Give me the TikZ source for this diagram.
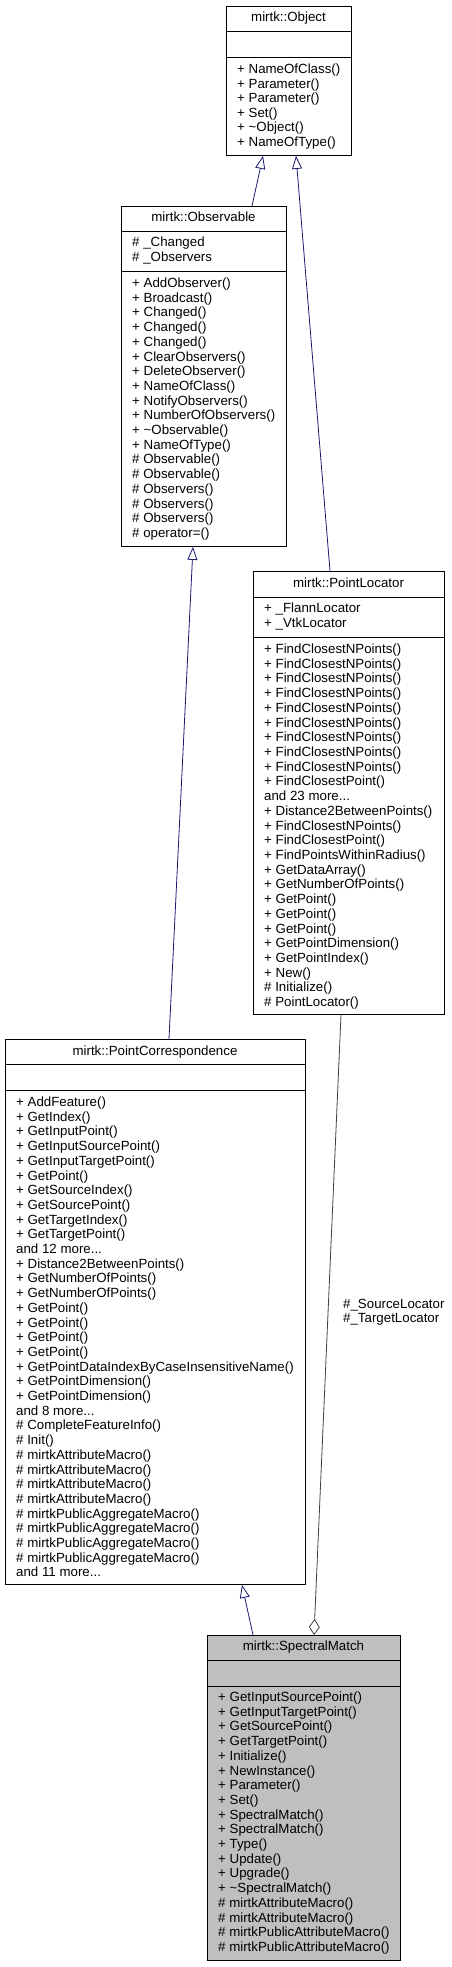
\documentclass[tikz,border=0pt]{standalone}
\usepackage{fontspec}
\setmainfont{Liberation Sans}
\usetikzlibrary{arrows.meta,calc}
\definecolor{inh}{HTML}{191970}
\definecolor{agg}{HTML}{404040}
\definecolor{smfill}{HTML}{BFBFBF}
\newcommand\umlrows[5]{\foreach \t [count=\i] in {#5}{\node[row,name=#1\i] at (#2,{#3+#4*(\i-1)}) {\t};}}
\begin{document}
\begin{tikzpicture}[x=1pt,y=-1pt,
  box/.style={draw=black,line width=0.9pt,fill=white,inner sep=0,anchor=north west},
  row/.style={anchor=base west,inner sep=0,font=\fontsize{13.3}{14.7}\selectfont},
  ttl/.style={anchor=base,inner sep=0,font=\fontsize{13.3}{14.7}\selectfont},
  sep/.style={line width=0.9pt},
  inherit/.style={draw=inh,line width=0.8pt,-{Triangle[open,length=13pt,width=10pt]}},
  aggr/.style={draw=agg,line width=0.8pt,-{Diamond[open,length=16pt,width=11pt]}}]
\useasboundingbox (0,0) rectangle (451,1967);
\fill[white] (0,0) rectangle (451,1967);

% mirtk::Object
\node[box,minimum width=125pt,minimum height=149.3pt] (obj) at (226,5.7) {};
\draw[sep] (obj.west |- 0,31) -- (obj.east |- 0,31);
\draw[sep] (obj.west |- 0,57) -- (obj.east |- 0,57);
\node[ttl] (objT) at (288.5,22) {mirtk::Object};
\umlrows{objm}{237}{73.5}{14.6}{+ NameOfClass(), + Parameter(), + Parameter(), + Set(), + \textasciitilde{}Object(), + NameOfType()}

% mirtk::Observable
\node[box,minimum width=165pt,minimum height=340pt] (obs) at (121,206) {};
\draw[sep] (obs.west |- 0,231) -- (obs.east |- 0,231);
\draw[sep] (obs.west |- 0,271) -- (obs.east |- 0,271);
\node[ttl] (obsT) at (203.5,221.5) {mirtk::Observable};
\umlrows{obsa}{132}{246.5}{14.7}{\# \_Changed, \# \_Observers}
\umlrows{obsm}{132}{287.5}{14.7}{+ AddObserver(), + Broadcast(), + Changed(), + Changed(), + Changed(), + ClearObservers(), + DeleteObserver(), + NameOfClass(), + NotifyObservers(), + NumberOfObservers(), + \textasciitilde{}Observable(), + NameOfType(), \# Observable(), \# Observable(), \# Observers(), \# Observers(), \# Observers(), \# operator=()}

% mirtk::PointLocator
\node[box,minimum width=191pt,minimum height=443pt] (pl) at (253,571) {};
\draw[sep] (pl.west |- 0,597) -- (pl.east |- 0,597);
\draw[sep] (pl.west |- 0,637) -- (pl.east |- 0,637);
\node[ttl] (plT) at (348.5,587.5) {mirtk::PointLocator};
\umlrows{pla}{264}{612.5}{14.7}{+ \_FlannLocator, + \_VtkLocator}
\umlrows{plm}{264}{653.5}{14.71}{+ FindClosestNPoints(), + FindClosestNPoints(), + FindClosestNPoints(), + FindClosestNPoints(), + FindClosestNPoints(), + FindClosestNPoints(), + FindClosestNPoints(), + FindClosestNPoints(), + FindClosestNPoints(), + FindClosestPoint(), and 23 more{...}, + Distance2BetweenPoints(), + FindClosestNPoints(), + FindClosestPoint(), + FindPointsWithinRadius(), + GetDataArray(), + GetNumberOfPoints(), + GetPoint(), + GetPoint(), + GetPoint(), + GetPointDimension(), + GetPointIndex(), + New(), \# Initialize(), \# PointLocator()}

% mirtk::PointCorrespondence
\node[box,minimum width=300pt,minimum height=545pt] (pc) at (5,1039) {};
\draw[sep] (pc.west |- 0,1064) -- (pc.east |- 0,1064);
\draw[sep] (pc.west |- 0,1090) -- (pc.east |- 0,1090);
\node[ttl] (pcT) at (155,1055.5) {mirtk::PointCorrespondence};
\umlrows{pcm}{16}{1106.5}{14.7}{+ AddFeature(), + GetIndex(), + GetInputPoint(), + GetInputSourcePoint(), + GetInputTargetPoint(), + GetPoint(), + GetSourceIndex(), + GetSourcePoint(), + GetTargetIndex(), + GetTargetPoint(), and 12 more{...}, + Distance2BetweenPoints(), + GetNumberOfPoints(), + GetNumberOfPoints(), + GetPoint(), + GetPoint(), + GetPoint(), + GetPoint(), + GetPointDataIndexByCaseInsensitiveName(), + GetPointDimension(), + GetPointDimension(), and 8 more{...}, \# CompleteFeatureInfo(), \# Init(), \# mirtkAttributeMacro(), \# mirtkAttributeMacro(), \# mirtkAttributeMacro(), \# mirtkAttributeMacro(), \# mirtkPublicAggregateMacro(), \# mirtkPublicAggregateMacro(), \# mirtkPublicAggregateMacro(), \# mirtkPublicAggregateMacro(), and 11 more{...}}

% mirtk::SpectralMatch
\node[box,fill=smfill,minimum width=193pt,minimum height=325pt] (sm) at (207,1635) {};
\draw[sep] (sm.west |- 0,1660) -- (sm.east |- 0,1660);
\draw[sep] (sm.west |- 0,1686) -- (sm.east |- 0,1686);
\node[ttl] (smT) at (303.5,1650.5) {mirtk::SpectralMatch};
\umlrows{smm}{218}{1701.5}{14.7}{+ GetInputSourcePoint(), + GetInputTargetPoint(), + GetSourcePoint(), + GetTargetPoint(), + Initialize(), + NewInstance(), + Parameter(), + Set(), + SpectralMatch(), + SpectralMatch(), + Type(), + Update(), + Upgrade(), + \textasciitilde{}SpectralMatch(), \# mirtkAttributeMacro(), \# mirtkAttributeMacro(), \# mirtkPublicAttributeMacro(), \# mirtkPublicAttributeMacro()}

% connectors
\draw[inherit] (obs.north -| 252,0) -- (obj.south -| 263,0);
\draw[inherit] (pl.north -| 330,0) -- (obj.south -| 296,0);
\draw[inherit] (pc.north -| 169,0) -- (obs.south -| 193,0);
\draw[inherit] (sm.north -| 253,0) -- (pc.south -| 242,0);
\draw[aggr] (pl.south -| 341,0) -- (sm.north -| 314,0);
\node[row] (lab1) at (343,1308.5) {\#\_SourceLocator};
\node[row] (lab2) at (343,1322.8) {\#\_TargetLocator};
\end{tikzpicture}
\end{document}
